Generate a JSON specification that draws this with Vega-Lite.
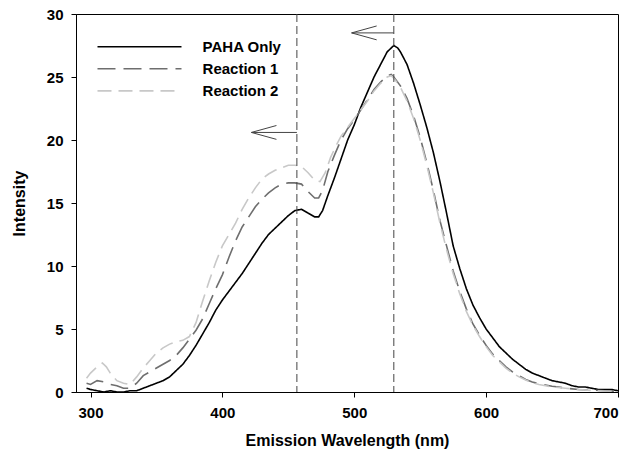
{
  "$schema": "https://vega.github.io/schema/vega-lite/v6.json",
  "width": 542,
  "height": 378,
  "autosize": {"type": "none"},
  "padding": {"left": 76, "top": 14, "right": 24, "bottom": 72},
  "background": "white",
  "config": {
    "view": {"stroke": "black", "strokeWidth": 1},
    "font": "Liberation Sans",
    "axis": {
      "domainColor": "black", "tickColor": "black", "grid": false,
      "labelFont": "Liberation Sans", "labelFontWeight": "bold", "labelFontSize": 15, "labelColor": "black",
      "titleFont": "Liberation Sans", "titleFontWeight": "bold", "titleFontSize": 16, "titleColor": "black",
      "tickSize": 5
    }
  },
  "datasets": {
    "spec": [
      {"s":"PAHA Only","w":297,"v":0.3},{"s":"PAHA Only","w":300,"v":0.2},{"s":"PAHA Only","w":305,"v":0.1},{"s":"PAHA Only","w":310,"v":0.0},{"s":"PAHA Only","w":315,"v":0.1},{"s":"PAHA Only","w":320,"v":0.0},{"s":"PAHA Only","w":325,"v":0.0},{"s":"PAHA Only","w":330,"v":0.1},{"s":"PAHA Only","w":335,"v":0.1},{"s":"PAHA Only","w":340,"v":0.3},{"s":"PAHA Only","w":345,"v":0.5},{"s":"PAHA Only","w":350,"v":0.7},{"s":"PAHA Only","w":355,"v":0.9},{"s":"PAHA Only","w":360,"v":1.2},{"s":"PAHA Only","w":365,"v":1.7},{"s":"PAHA Only","w":370,"v":2.2},{"s":"PAHA Only","w":375,"v":2.9},{"s":"PAHA Only","w":380,"v":3.7},{"s":"PAHA Only","w":385,"v":4.6},{"s":"PAHA Only","w":390,"v":5.5},{"s":"PAHA Only","w":395,"v":6.5},{"s":"PAHA Only","w":400,"v":7.3},{"s":"PAHA Only","w":405,"v":8.0},{"s":"PAHA Only","w":410,"v":8.7},{"s":"PAHA Only","w":415,"v":9.4},{"s":"PAHA Only","w":420,"v":10.2},{"s":"PAHA Only","w":425,"v":11.0},{"s":"PAHA Only","w":430,"v":11.8},{"s":"PAHA Only","w":435,"v":12.5},{"s":"PAHA Only","w":440,"v":13.0},{"s":"PAHA Only","w":445,"v":13.5},{"s":"PAHA Only","w":450,"v":14.0},{"s":"PAHA Only","w":455,"v":14.4},{"s":"PAHA Only","w":460,"v":14.5},{"s":"PAHA Only","w":465,"v":14.2},{"s":"PAHA Only","w":470,"v":13.9},{"s":"PAHA Only","w":473,"v":13.9},{"s":"PAHA Only","w":476,"v":14.4},{"s":"PAHA Only","w":480,"v":15.6},{"s":"PAHA Only","w":485,"v":17.0},{"s":"PAHA Only","w":490,"v":18.5},{"s":"PAHA Only","w":495,"v":20.0},{"s":"PAHA Only","w":500,"v":21.2},{"s":"PAHA Only","w":505,"v":22.6},{"s":"PAHA Only","w":510,"v":23.8},{"s":"PAHA Only","w":515,"v":25.0},{"s":"PAHA Only","w":520,"v":26.0},{"s":"PAHA Only","w":525,"v":27.0},{"s":"PAHA Only","w":530,"v":27.5},{"s":"PAHA Only","w":533,"v":27.3},{"s":"PAHA Only","w":535,"v":27.0},{"s":"PAHA Only","w":540,"v":26.0},{"s":"PAHA Only","w":545,"v":24.5},{"s":"PAHA Only","w":550,"v":22.8},{"s":"PAHA Only","w":555,"v":21.0},{"s":"PAHA Only","w":560,"v":19.0},{"s":"PAHA Only","w":565,"v":16.7},{"s":"PAHA Only","w":570,"v":14.2},{"s":"PAHA Only","w":575,"v":11.6},{"s":"PAHA Only","w":580,"v":9.8},{"s":"PAHA Only","w":585,"v":8.2},{"s":"PAHA Only","w":590,"v":6.9},{"s":"PAHA Only","w":595,"v":5.9},{"s":"PAHA Only","w":600,"v":5.0},{"s":"PAHA Only","w":605,"v":4.3},{"s":"PAHA Only","w":610,"v":3.6},{"s":"PAHA Only","w":615,"v":3.1},{"s":"PAHA Only","w":620,"v":2.6},{"s":"PAHA Only","w":625,"v":2.2},{"s":"PAHA Only","w":630,"v":1.8},{"s":"PAHA Only","w":635,"v":1.5},{"s":"PAHA Only","w":640,"v":1.3},{"s":"PAHA Only","w":645,"v":1.1},{"s":"PAHA Only","w":650,"v":0.9},{"s":"PAHA Only","w":655,"v":0.8},{"s":"PAHA Only","w":660,"v":0.7},{"s":"PAHA Only","w":665,"v":0.5},{"s":"PAHA Only","w":670,"v":0.4},{"s":"PAHA Only","w":675,"v":0.4},{"s":"PAHA Only","w":680,"v":0.3},{"s":"PAHA Only","w":685,"v":0.2},{"s":"PAHA Only","w":690,"v":0.2},{"s":"PAHA Only","w":695,"v":0.2},{"s":"PAHA Only","w":700,"v":0.1},

      {"s":"Reaction 1","w":297,"v":0.7},{"s":"Reaction 1","w":300,"v":0.6},{"s":"Reaction 1","w":305,"v":0.9},{"s":"Reaction 1","w":310,"v":0.8},{"s":"Reaction 1","w":315,"v":0.6},{"s":"Reaction 1","w":320,"v":0.5},{"s":"Reaction 1","w":325,"v":0.3},{"s":"Reaction 1","w":330,"v":0.3},{"s":"Reaction 1","w":335,"v":0.7},{"s":"Reaction 1","w":340,"v":1.3},{"s":"Reaction 1","w":345,"v":1.6},{"s":"Reaction 1","w":350,"v":1.9},{"s":"Reaction 1","w":355,"v":2.2},{"s":"Reaction 1","w":360,"v":2.5},{"s":"Reaction 1","w":365,"v":2.9},{"s":"Reaction 1","w":370,"v":3.5},{"s":"Reaction 1","w":375,"v":4.2},{"s":"Reaction 1","w":380,"v":4.9},{"s":"Reaction 1","w":385,"v":5.8},{"s":"Reaction 1","w":390,"v":7.0},{"s":"Reaction 1","w":395,"v":8.2},{"s":"Reaction 1","w":400,"v":9.3},{"s":"Reaction 1","w":405,"v":10.7},{"s":"Reaction 1","w":410,"v":12.0},{"s":"Reaction 1","w":415,"v":13.1},{"s":"Reaction 1","w":420,"v":13.9},{"s":"Reaction 1","w":425,"v":14.7},{"s":"Reaction 1","w":430,"v":15.3},{"s":"Reaction 1","w":435,"v":15.8},{"s":"Reaction 1","w":440,"v":16.2},{"s":"Reaction 1","w":445,"v":16.5},{"s":"Reaction 1","w":450,"v":16.6},{"s":"Reaction 1","w":455,"v":16.6},{"s":"Reaction 1","w":460,"v":16.5},{"s":"Reaction 1","w":465,"v":15.9},{"s":"Reaction 1","w":470,"v":15.4},{"s":"Reaction 1","w":473,"v":15.4},{"s":"Reaction 1","w":476,"v":16.0},{"s":"Reaction 1","w":480,"v":17.5},{"s":"Reaction 1","w":485,"v":18.8},{"s":"Reaction 1","w":490,"v":20.0},{"s":"Reaction 1","w":495,"v":20.9},{"s":"Reaction 1","w":500,"v":21.6},{"s":"Reaction 1","w":505,"v":22.4},{"s":"Reaction 1","w":510,"v":23.2},{"s":"Reaction 1","w":515,"v":24.0},{"s":"Reaction 1","w":520,"v":24.6},{"s":"Reaction 1","w":525,"v":25.1},{"s":"Reaction 1","w":528,"v":25.2},{"s":"Reaction 1","w":530,"v":25.0},{"s":"Reaction 1","w":535,"v":24.3},{"s":"Reaction 1","w":540,"v":23.3},{"s":"Reaction 1","w":545,"v":21.9},{"s":"Reaction 1","w":550,"v":20.2},{"s":"Reaction 1","w":555,"v":18.2},{"s":"Reaction 1","w":560,"v":16.0},{"s":"Reaction 1","w":565,"v":13.6},{"s":"Reaction 1","w":570,"v":11.6},{"s":"Reaction 1","w":575,"v":9.6},{"s":"Reaction 1","w":580,"v":8.0},{"s":"Reaction 1","w":585,"v":6.6},{"s":"Reaction 1","w":590,"v":5.4},{"s":"Reaction 1","w":595,"v":4.5},{"s":"Reaction 1","w":600,"v":3.7},{"s":"Reaction 1","w":605,"v":3.0},{"s":"Reaction 1","w":610,"v":2.5},{"s":"Reaction 1","w":615,"v":2.0},{"s":"Reaction 1","w":620,"v":1.6},{"s":"Reaction 1","w":625,"v":1.3},{"s":"Reaction 1","w":630,"v":1.0},{"s":"Reaction 1","w":635,"v":0.8},{"s":"Reaction 1","w":640,"v":0.65},{"s":"Reaction 1","w":645,"v":0.55},{"s":"Reaction 1","w":650,"v":0.45},{"s":"Reaction 1","w":655,"v":0.4},{"s":"Reaction 1","w":660,"v":0.3},{"s":"Reaction 1","w":670,"v":0.2},{"s":"Reaction 1","w":680,"v":0.15},{"s":"Reaction 1","w":690,"v":0.1},{"s":"Reaction 1","w":700,"v":0.05},

      {"s":"Reaction 2","w":297,"v":1.1},{"s":"Reaction 2","w":300,"v":1.5},{"s":"Reaction 2","w":305,"v":2.0},{"s":"Reaction 2","w":309,"v":2.3},{"s":"Reaction 2","w":312,"v":2.0},{"s":"Reaction 2","w":315,"v":1.5},{"s":"Reaction 2","w":320,"v":0.9},{"s":"Reaction 2","w":325,"v":0.7},{"s":"Reaction 2","w":330,"v":0.6},{"s":"Reaction 2","w":335,"v":1.2},{"s":"Reaction 2","w":340,"v":1.9},{"s":"Reaction 2","w":345,"v":2.5},{"s":"Reaction 2","w":350,"v":3.1},{"s":"Reaction 2","w":355,"v":3.5},{"s":"Reaction 2","w":360,"v":3.8},{"s":"Reaction 2","w":365,"v":4.0},{"s":"Reaction 2","w":370,"v":4.1},{"s":"Reaction 2","w":375,"v":4.4},{"s":"Reaction 2","w":380,"v":5.5},{"s":"Reaction 2","w":385,"v":7.2},{"s":"Reaction 2","w":390,"v":8.8},{"s":"Reaction 2","w":395,"v":10.3},{"s":"Reaction 2","w":400,"v":11.6},{"s":"Reaction 2","w":405,"v":12.5},{"s":"Reaction 2","w":410,"v":13.4},{"s":"Reaction 2","w":415,"v":14.5},{"s":"Reaction 2","w":420,"v":15.4},{"s":"Reaction 2","w":425,"v":16.2},{"s":"Reaction 2","w":430,"v":16.9},{"s":"Reaction 2","w":435,"v":17.3},{"s":"Reaction 2","w":440,"v":17.6},{"s":"Reaction 2","w":445,"v":17.8},{"s":"Reaction 2","w":450,"v":18.0},{"s":"Reaction 2","w":455,"v":18.0},{"s":"Reaction 2","w":460,"v":17.9},{"s":"Reaction 2","w":465,"v":17.4},{"s":"Reaction 2","w":470,"v":16.8},{"s":"Reaction 2","w":474,"v":16.7},{"s":"Reaction 2","w":478,"v":17.4},{"s":"Reaction 2","w":482,"v":18.6},{"s":"Reaction 2","w":486,"v":19.5},{"s":"Reaction 2","w":490,"v":20.3},{"s":"Reaction 2","w":495,"v":21.0},{"s":"Reaction 2","w":500,"v":21.7},{"s":"Reaction 2","w":505,"v":22.4},{"s":"Reaction 2","w":510,"v":23.1},{"s":"Reaction 2","w":515,"v":23.9},{"s":"Reaction 2","w":520,"v":24.5},{"s":"Reaction 2","w":525,"v":25.0},{"s":"Reaction 2","w":528,"v":25.1},{"s":"Reaction 2","w":530,"v":24.9},{"s":"Reaction 2","w":535,"v":24.2},{"s":"Reaction 2","w":540,"v":23.1},{"s":"Reaction 2","w":545,"v":21.7},{"s":"Reaction 2","w":550,"v":20.0},{"s":"Reaction 2","w":555,"v":18.0},{"s":"Reaction 2","w":560,"v":15.8},{"s":"Reaction 2","w":565,"v":13.4},{"s":"Reaction 2","w":570,"v":11.3},{"s":"Reaction 2","w":575,"v":9.4},{"s":"Reaction 2","w":580,"v":7.8},{"s":"Reaction 2","w":585,"v":6.4},{"s":"Reaction 2","w":590,"v":5.3},{"s":"Reaction 2","w":595,"v":4.4},{"s":"Reaction 2","w":600,"v":3.6},{"s":"Reaction 2","w":605,"v":2.9},{"s":"Reaction 2","w":610,"v":2.4},{"s":"Reaction 2","w":615,"v":1.9},{"s":"Reaction 2","w":620,"v":1.5},{"s":"Reaction 2","w":625,"v":1.2},{"s":"Reaction 2","w":630,"v":0.95},{"s":"Reaction 2","w":635,"v":0.75},{"s":"Reaction 2","w":640,"v":0.6},{"s":"Reaction 2","w":645,"v":0.5},{"s":"Reaction 2","w":650,"v":0.4},{"s":"Reaction 2","w":660,"v":0.3},{"s":"Reaction 2","w":670,"v":0.2},{"s":"Reaction 2","w":680,"v":0.12},{"s":"Reaction 2","w":690,"v":0.08},{"s":"Reaction 2","w":700,"v":0.05}
    ],
    "vlines": [{"w": 456.5}, {"w": 530}],
    "arrows": [
      {"x": 498, "x2": 530, "y": 28.5, "y2": 28.5},
      {"x": 498, "x2": 517, "y": 28.5, "y2": 29.05},
      {"x": 498, "x2": 517, "y": 28.5, "y2": 27.95},
      {"x": 422, "x2": 456.5, "y": 20.6, "y2": 20.6},
      {"x": 422, "x2": 441, "y": 20.6, "y2": 21.15},
      {"x": 422, "x2": 441, "y": 20.6, "y2": 20.05}
    ],
    "legend": [
      {"s": "PAHA Only", "x": 305.3, "x2": 369, "tx": 385, "y": 27.4},
      {"s": "Reaction 1", "x": 305.3, "x2": 369, "tx": 385, "y": 25.65},
      {"s": "Reaction 2", "x": 305.3, "x2": 369, "tx": 385, "y": 23.9}
    ]
  },
  "layer": [
    {
      "data": {"name": "spec"},
      "mark": {"type": "line", "strokeWidth": 1.6, "clip": true},
      "encoding": {
        "x": {"field": "w", "type": "quantitative", "title": "Emission Wavelength (nm)",
              "scale": {"domain": [289, 700], "nice": false, "zero": false},
              "axis": {"values": [300, 400, 500, 600, 700], "labelPadding": 8, "titlePadding": 12}},
        "y": {"field": "v", "type": "quantitative", "title": "Intensity",
              "scale": {"domain": [0, 30], "nice": false},
              "axis": {"values": [0, 5, 10, 15, 20, 25, 30], "labelPadding": 8, "titlePadding": 19}},
        "color": {"field": "s", "type": "nominal", "legend": null,
                  "scale": {"domain": ["PAHA Only", "Reaction 1", "Reaction 2"], "range": ["#000000", "#6e6e6e", "#c8c8c8"]}},
        "strokeDash": {"field": "s", "type": "nominal", "legend": null,
                  "scale": {"domain": ["PAHA Only", "Reaction 1", "Reaction 2"], "range": [[1, 0], [18, 8], [14, 7]]}},
        "order": {"field": "w", "type": "quantitative"}
      }
    },
    {
      "data": {"name": "vlines"},
      "mark": {"type": "rule", "color": "#444444", "strokeWidth": 1, "strokeDash": [8, 4]},
      "encoding": {"x": {"field": "w", "type": "quantitative"}}
    },
    {
      "data": {"name": "arrows"},
      "mark": {"type": "rule", "color": "#444444", "strokeWidth": 1},
      "encoding": {
        "x": {"field": "x", "type": "quantitative"},
        "x2": {"field": "x2"},
        "y": {"field": "y", "type": "quantitative"},
        "y2": {"field": "y2"}
      }
    },
    {
      "data": {"name": "legend"},
      "mark": {"type": "rule", "strokeWidth": 1.6},
      "encoding": {
        "x": {"field": "x", "type": "quantitative"},
        "x2": {"field": "x2"},
        "y": {"field": "y", "type": "quantitative"},
        "color": {"field": "s", "type": "nominal", "legend": null},
        "strokeDash": {"field": "s", "type": "nominal", "legend": null}
      }
    },
    {
      "data": {"name": "legend"},
      "mark": {"type": "text", "align": "left", "baseline": "middle", "font": "Liberation Sans", "fontWeight": "bold", "fontSize": 15, "color": "black"},
      "encoding": {
        "x": {"field": "tx", "type": "quantitative"},
        "y": {"field": "y", "type": "quantitative"},
        "text": {"field": "s"}
      }
    }
  ]
}
